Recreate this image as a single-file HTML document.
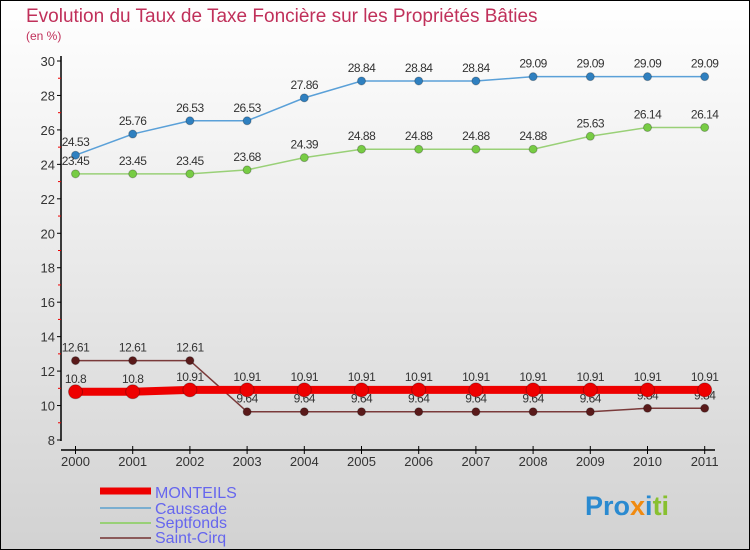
<!DOCTYPE html>
<html><head><meta charset="utf-8"><style>
body{margin:0;width:750px;height:550px;overflow:hidden;font-family:"Liberation Sans",sans-serif}
svg{display:block}
</style></head><body>
<svg width="750" height="550" xmlns="http://www.w3.org/2000/svg">
<defs><linearGradient id="bg" x1="0" y1="0" x2="0" y2="1"><stop offset="0" stop-color="#ffffff"/><stop offset="1" stop-color="#d2d2d2"/></linearGradient></defs>
<rect x="0.5" y="0.5" width="749" height="549" fill="url(#bg)" stroke="#000"/>
<text x="26" y="22" font-size="19" fill="#c0305a">Evolution du Taux de Taxe Foncière sur les Propriétés Bâties</text>
<text x="26" y="40" font-size="12" fill="#c0305a">(en %)</text>
<g id="axes"></g>
<g id="series"></g>
<g>
<line x1="100" y1="491" x2="151" y2="491" stroke="#e00" stroke-width="7"/>
<text x="155" y="498" font-size="16" fill="#6666ee">MONTEILS</text>
<line x1="100" y1="508" x2="151" y2="508" stroke="#7aaed0" stroke-width="2"/>
<text x="155" y="514" font-size="16" fill="#6666ee">Caussade</text>
<line x1="100" y1="523" x2="151" y2="523" stroke="#99d077" stroke-width="2"/>
<text x="155" y="528" font-size="16" fill="#6666ee">Septfonds</text>
<line x1="100" y1="538" x2="151" y2="538" stroke="#8b5a5a" stroke-width="2"/>
<text x="155" y="543" font-size="16" fill="#6666ee">Saint-Cirq</text>
</g>
<text x="585" y="515" font-size="27" font-weight="bold"><tspan fill="#2a8ad0">Pro</tspan><tspan fill="#f08a10">x</tspan><tspan fill="#2a8ad0">i</tspan><tspan fill="#88c030">ti</tspan></text>
</svg>
<script>
const years=["2000","2001","2002","2003","2004","2005","2006","2007","2008","2009","2010","2011"];
const yTicks=[8,10,12,14,16,18,20,22,24,26,28,30];
const monteils=[10.8,10.8,10.91,10.91,10.91,10.91,10.91,10.91,10.91,10.91,10.91,10.91];
const caussade=[24.53,25.76,26.53,26.53,27.86,28.84,28.84,28.84,29.09,29.09,29.09,29.09];
const septfonds=[23.45,23.45,23.45,23.68,24.39,24.88,24.88,24.88,24.88,25.63,26.14,26.14];
const saintCirq=[12.61,12.61,12.61,9.64,9.64,9.64,9.64,9.64,9.64,9.64,9.84,9.84];
const NS="http://www.w3.org/2000/svg";
const X=i=>75.5+i*57.2;
const Y=v=>61+(30-v)*(379/22);
function mk(t,a,p){const e=document.createElementNS(NS,t);for(const k in a)e.setAttribute(k,a[k]);p.appendChild(e);return e;}
const ax=document.getElementById('axes');
let e=mk('line',{x1:61,y1:56,x2:61,y2:441,stroke:'#000','stroke-width':1.5},ax);


e=mk('line',{x1:61,y1:450,x2:715,y2:450,stroke:'#000','stroke-width':1.5},ax);


yTicks.forEach(v=>{
 const t=mk('line',{x1:57,y1:Y(v),x2:61,y2:Y(v),stroke:'#000'},ax);
 
 
 if(v<30){const m=mk('line',{x1:58,y1:Y(v+1),x2:61,y2:Y(v+1),stroke:'#e00'},ax);
 
 }
 const l=mk('text',{x:55,y:Y(v)+5,'font-size':13,fill:'#333','text-anchor':'end'},ax);
 l.textContent=v;
 
 
});
years.forEach((y,i)=>{
 const t=mk('line',{x1:X(i),y1:446,x2:X(i),y2:454,stroke:'#000'},ax);
 
 
 const l=mk('text',{x:X(i),y:466,'font-size':13,fill:'#333','text-anchor':'middle'},ax);
 l.textContent=y;
 
 
});
const sg=document.getElementById('series');
function draw(name,vals,col,dot,w,r){
 const g=mk('g',{},sg);
 
 
 const p=mk('polyline',{points:vals.map((v,i)=>X(i)+','+Y(v)).join(' '),fill:'none',stroke:col,'stroke-width':w},g);
 
 
 vals.forEach((v,i)=>{
  const c=mk('circle',{cx:X(i),cy:Y(v),r:r,fill:dot,stroke:'rgba(0,0,0,0.25)','stroke-width':1},g);
  
  
  const t=mk('text',{x:X(i),y:Y(v)-9,'font-size':12,fill:'#333','text-anchor':'middle','letter-spacing':'-0.5'},g);
  t.textContent=String(v);
  
  
 });
}
draw('caussade',caussade,'#5aa0d8','#2f80c0',1.5,4);
draw('septfonds',septfonds,'#99d077','#77cc44',1.5,4);
draw('saint-cirq',saintCirq,'#7a3a3a','#5a1a1a',1.5,4);
draw('monteils',monteils,'#ee0000','#ee0000',8,7);
</script>
</body></html>
